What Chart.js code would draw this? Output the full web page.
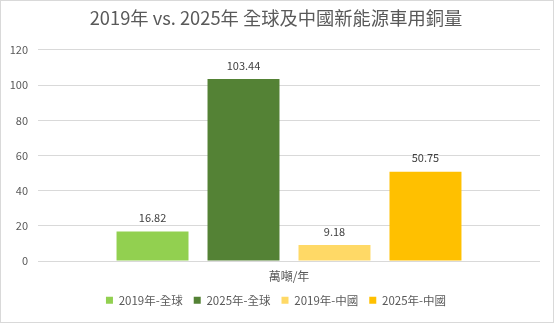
<!DOCTYPE html>
<html>
<head>
<meta charset="utf-8">
<script src="https://cdn.jsdelivr.net/npm/chart.js@4"></script>
<style>
  html, body { margin: 0; padding: 0; background: #fff; }
  #wrap { width: 552px; height: 321px; border: 1px solid #d9d9d9; }
</style>
</head>
<body>
<div id="wrap"><canvas id="chart" width="552" height="321"></canvas></div>
<script>
const categories = ["萬噸/年"];
const seriesNames = ["2019年-全球", "2025年-全球", "2019年-中國", "2025年-中國"];
const global2019 = [16.82];
const global2025 = [103.44];
const china2019 = [9.18];
const china2025 = [50.75];
const colors = ["#92d050", "#548235", "#ffd966", "#ffc000"];

const FONT = "'Noto Sans CJK TC', 'Noto Sans', sans-serif";

const dataLabels = {
    id: "dataLabels",
    afterDatasetsDraw(chart) {
        const ctx = chart.ctx;
        ctx.save();
        ctx.font = "11px " + FONT;
        ctx.fillStyle = "#404040";
        ctx.textAlign = "center";
        ctx.textBaseline = "bottom";
        chart.data.datasets.forEach((ds, i) => {
            chart.getDatasetMeta(i).data.forEach((bar, j) => {
                ctx.fillText(ds.data[j].toFixed(2), bar.x, bar.y - 8);
            });
        });
        ctx.restore();
    },
};

const seriesData = [global2019, global2025, china2019, china2025];

new Chart(document.getElementById("chart"), {
    type: "bar",
    data: {
        labels: categories,
        datasets: seriesNames.map((name, i) => ({
            label: name,
            data: seriesData[i],
            backgroundColor: colors[i],
            categoryPercentage: 0.725,
            barPercentage: 0.791,
        })),
    },
    options: {
        responsive: false,
        animation: false,
        layout: { padding: { left: 0, right: 2, top: 2, bottom: 6 } },
        scales: {
            x: {
                grid: { display: false },
                border: { display: false },
                ticks: { color: "#595959", font: { family: FONT, size: 12 }, padding: 0 },
            },
            y: {
                min: 0,
                max: 120,
                ticks: { stepSize: 20, color: "#595959", font: { family: FONT, size: 11 }, padding: 10 },
                grid: { color: "#d9d9d9", drawTicks: false },
                border: { display: false },
                afterFit: (s) => { s.width = 37; },
            },
            yRight: {
                position: "right",
                display: true,
                ticks: { display: false },
                grid: { display: false },
                border: { display: false },
                afterFit: (s) => { s.width = 11; },
            },
        },
        plugins: {
            title: {
                display: true,
                text: "2019年 vs. 2025年 全球及中國新能源車用銅量",
                color: "#595959",
                font: { family: FONT, size: 18.3, weight: "normal" },
                padding: { top: 4, bottom: 21 },
            },
            legend: {
                position: "bottom",
                labels: {
                    color: "#595959",
                    font: { family: FONT, size: 11.5 },
                    boxWidth: 7,
                    boxHeight: 7,
                    padding: 11,
                },
            },
            tooltip: { enabled: false },
        },
    },
    plugins: [dataLabels],
});
</script>
</body>
</html>
